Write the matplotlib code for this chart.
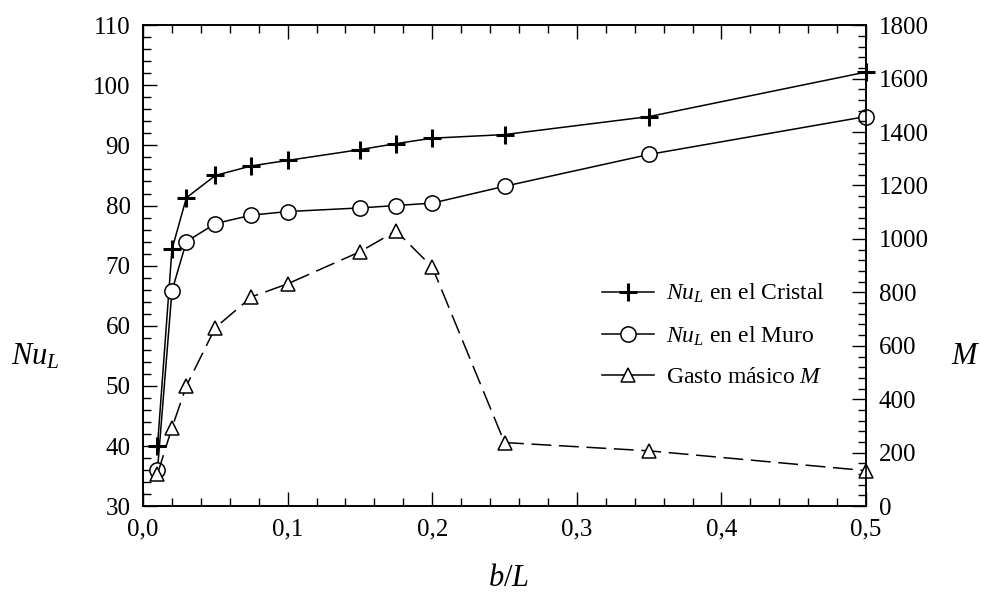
import matplotlib
matplotlib.use('Agg')
import matplotlib.pyplot as plt
from matplotlib.lines import Line2D
from matplotlib.ticker import MultipleLocator, FuncFormatter

plt.rcParams['font.family'] = ['Liberation Serif', 'DejaVu Serif']
plt.rcParams['mathtext.fontset'] = 'custom'
plt.rcParams['mathtext.it'] = 'Liberation Serif:italic'
plt.rcParams['mathtext.rm'] = 'Liberation Serif'

# data
b_L = [0.01, 0.02, 0.03, 0.05, 0.075, 0.1, 0.15, 0.175, 0.2, 0.25, 0.35, 0.5]
nu_cristal = [40.0, 72.7, 81.3, 85.0, 86.6, 87.5, 89.3, 90.3, 91.2, 91.8, 94.8, 102.2]
nu_muro = [36.0, 65.8, 74.0, 77.0, 78.4, 79.0, 79.6, 80.0, 80.4, 83.2, 88.5, 94.8]
gasto_M = [120, 293, 450, 668, 783, 832, 952, 1030, 895, 238, 207, 133]

fig = plt.figure(figsize=(9.83, 5.99), dpi=100)
ax = fig.add_axes([0.1455, 0.155, 0.7355, 0.803])
ax2 = ax.twinx()

ax.plot(b_L, nu_cristal, color='black', lw=1.1, marker='+', ms=13, mew=2.2, zorder=3, clip_on=False)
ax.plot(b_L, nu_muro, color='black', lw=1.1, marker='o', ms=11, mfc='white', mec='black', mew=1.1,
        zorder=3, clip_on=False)
ax2.plot(b_L, gasto_M, color='black', lw=1.1, ls=(0, (13, 5)), marker='^', ms=10.5,
         mfc='white', mec='black', mew=1.1, clip_on=False)

ax.set_xlim(0, 0.5)
ax.set_ylim(30, 110)
ax2.set_ylim(0, 1800)

comma = FuncFormatter(lambda v, p: ('%.1f' % v).replace('.', ','))
ax.xaxis.set_major_locator(MultipleLocator(0.1))
ax.xaxis.set_minor_locator(MultipleLocator(0.02))
ax.xaxis.set_major_formatter(comma)
ax.yaxis.set_major_locator(MultipleLocator(10))
ax.yaxis.set_minor_locator(MultipleLocator(2))
ax2.yaxis.set_major_locator(MultipleLocator(200))
ax2.yaxis.set_minor_locator(MultipleLocator(40))

ax.tick_params(which='both', direction='in', top=True, right=False, labelsize=18, width=1.0)
ax.tick_params(which='major', length=10, pad=9)
ax.tick_params(which='minor', length=6)
ax2.tick_params(which='both', direction='in', labelsize=18, width=1.0)
ax2.tick_params(which='major', length=10, pad=9)
ax2.tick_params(which='minor', length=6)
for s in list(ax.spines.values()) + list(ax2.spines.values()):
    s.set_linewidth(1.2)

fig.text(0.036, 0.405, r'$Nu_L$', fontsize=22, ha='center', va='center')
fig.text(0.982, 0.405, r'$M$', fontsize=22, ha='center', va='center')
fig.text(0.517, 0.035, r'$b/L$', fontsize=22, ha='center', va='center')

handles = [
    Line2D([], [], color='black', lw=1.1, marker='+', ms=13, mew=2.2),
    Line2D([], [], color='black', lw=1.1, marker='o', ms=11, mfc='white', mew=1.1),
    Line2D([], [], color='black', lw=1.1, marker='^', ms=10.5, mfc='white', mew=1.1),
]
labels = [r'$Nu_L$ en el Cristal', r'$Nu_L$ en el Muro', r'Gasto másico $M$']
ax.legend(handles, labels, loc='upper left', bbox_to_anchor=(0.606, 0.51), frameon=False,
          fontsize=17, handlelength=2.2, handletextpad=0.5, labelspacing=0.8)

fig.savefig('out.png', dpi=100)
